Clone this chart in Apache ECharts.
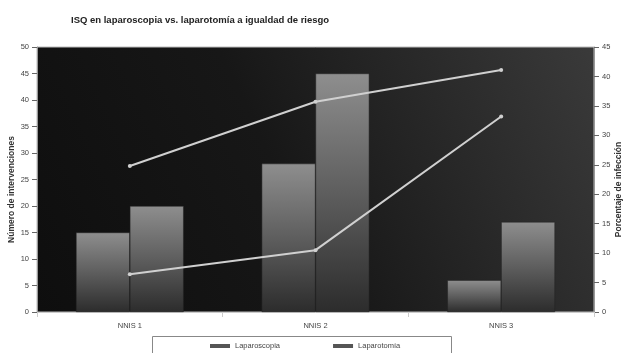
<!DOCTYPE html>
<html>
<head>
<meta charset="utf-8">
<script src="https://cdn.jsdelivr.net/npm/echarts@6/dist/echarts.min.js"></script>
<style>
  html, body { margin: 0; padding: 0; background: #fff; }
  #chart { width: 624px; height: 353px; }
</style>
</head>
<body>
<div id="chart"></div>
<script>
// Riesgo NNIS
const categories = ['NNIS 1', 'NNIS 2', 'NNIS 3'];
// Número de intervenciones
const intervLaparoscopia = [15, 28, 6];
const intervLaparotomia = [20, 45, 17];
// Porcentaje de infección
const infecLaparoscopia = [6.4, 10.5, 33.2];
const infecLaparotomia = [24.8, 35.7, 41.1];
const leftTicks = { min: 0, max: 50, interval: 5 };
const rightTicks = { min: 0, max: 45, interval: 5 };

const font = 'Liberation Sans, Arial, sans-serif';
const barFill = new echarts.graphic.LinearGradient(0, 0, 0, 1, [
  { offset: 0, color: '#8e8e8e' },
  { offset: 0.5, color: '#5e5e5e' },
  { offset: 1, color: '#2c2c2c' }
]);

const chart = echarts.init(document.getElementById('chart'));
chart.setOption({
  animation: false,
  backgroundColor: '#fff',
  title: {
    text: 'ISQ en laparoscopia vs. laparotomía a igualdad de riesgo',
    left: 66, top: 10,
    textStyle: { fontFamily: font, fontSize: 9.5, fontWeight: 'bold', color: '#222' }
  },
  grid: {
    left: 37, right: 30, top: 47, bottom: 41,
    outerBoundsMode: 'none',
    containLabel: false,
    show: true,
    borderColor: '#bbb', borderWidth: 1,
    backgroundColor: new echarts.graphic.LinearGradient(0, 1, 1, 0, [
      { offset: 0, color: '#0e0e0e' },
      { offset: 0.45, color: '#171717' },
      { offset: 1, color: '#3a3a3a' }
    ])
  },
  legend: {
    data: [
      { name: 'Laparoscopia', itemStyle: { color: '#555' } },
      { name: 'Laparotomía', itemStyle: { color: '#555' } }
    ],
    icon: 'rect', itemWidth: 20, itemHeight: 4, itemGap: 53, itemStyle: { borderWidth: 0 },
    left: 205, top: 337,
    textStyle: { fontFamily: font, fontSize: 7.5, color: '#444' }
  },
  graphic: [{
    type: 'rect', left: 150, top: 334,
    shape: { width: 299, height: 18 },
    style: { fill: 'none', stroke: '#888', lineWidth: 1 },
    silent: true, z: -1
  }],
  xAxis: {
    type: 'category', data: categories,
    axisLine: { lineStyle: { color: '#ccc' } },
    axisTick: { show: true, alignWithLabel: false, lineStyle: { color: '#ccc' } },
    axisLabel: { fontFamily: font, fontSize: 7.5, color: '#444', margin: 10 }
  },
  yAxis: [{
    type: 'value', ...leftTicks,
    name: 'Número de intervenciones', nameLocation: 'middle', nameGap: 21,
    nameMoveOverlap: false,
    nameTextStyle: { fontFamily: font, fontSize: 8.5, fontWeight: 'bold', color: '#333', padding: [0, 20, 0, 0] },
    axisLine: { show: true, lineStyle: { color: '#999' } },
    axisTick: { show: true, lineStyle: { color: '#666' } },
    splitLine: { show: false },
    axisLabel: { fontFamily: font, fontSize: 7.5, color: '#444', margin: 8 }
  }, {
    type: 'value', ...rightTicks,
    name: 'Porcentaje de infección', nameLocation: 'middle', nameGap: 20,
    nameMoveOverlap: false,
    nameTextStyle: { fontFamily: font, fontSize: 8.5, fontWeight: 'bold', color: '#333', padding: [0, 20, 0, 0] },
    axisLine: { show: true, lineStyle: { color: '#999' } },
    axisTick: { show: true, lineStyle: { color: '#666' } },
    splitLine: { show: false },
    axisLabel: { fontFamily: font, fontSize: 7.5, color: '#444', margin: 8 }
  }],
  series: [{
    name: 'Intervenciones laparoscopia', type: 'bar', yAxisIndex: 0,
    data: intervLaparoscopia, barGap: '0%', barCategoryGap: '42%',
    itemStyle: { color: barFill, borderColor: '#222', borderWidth: 0.5 }
  }, {
    name: 'Intervenciones laparotomía', type: 'bar', yAxisIndex: 0,
    data: intervLaparotomia, barGap: '0%', barCategoryGap: '42%',
    itemStyle: { color: barFill, borderColor: '#222', borderWidth: 0.5 }
  }, {
    name: 'Laparoscopia', type: 'line', yAxisIndex: 1,
    data: infecLaparoscopia, symbol: 'circle', symbolSize: 4,
    lineStyle: { color: '#d0d0d0', width: 2 },
    itemStyle: { color: '#d0d0d0' }
  }, {
    name: 'Laparotomía', type: 'line', yAxisIndex: 1,
    data: infecLaparotomia, symbol: 'circle', symbolSize: 4,
    lineStyle: { color: '#d0d0d0', width: 2 },
    itemStyle: { color: '#d0d0d0' }
  }]
});
</script>
</body>
</html>
